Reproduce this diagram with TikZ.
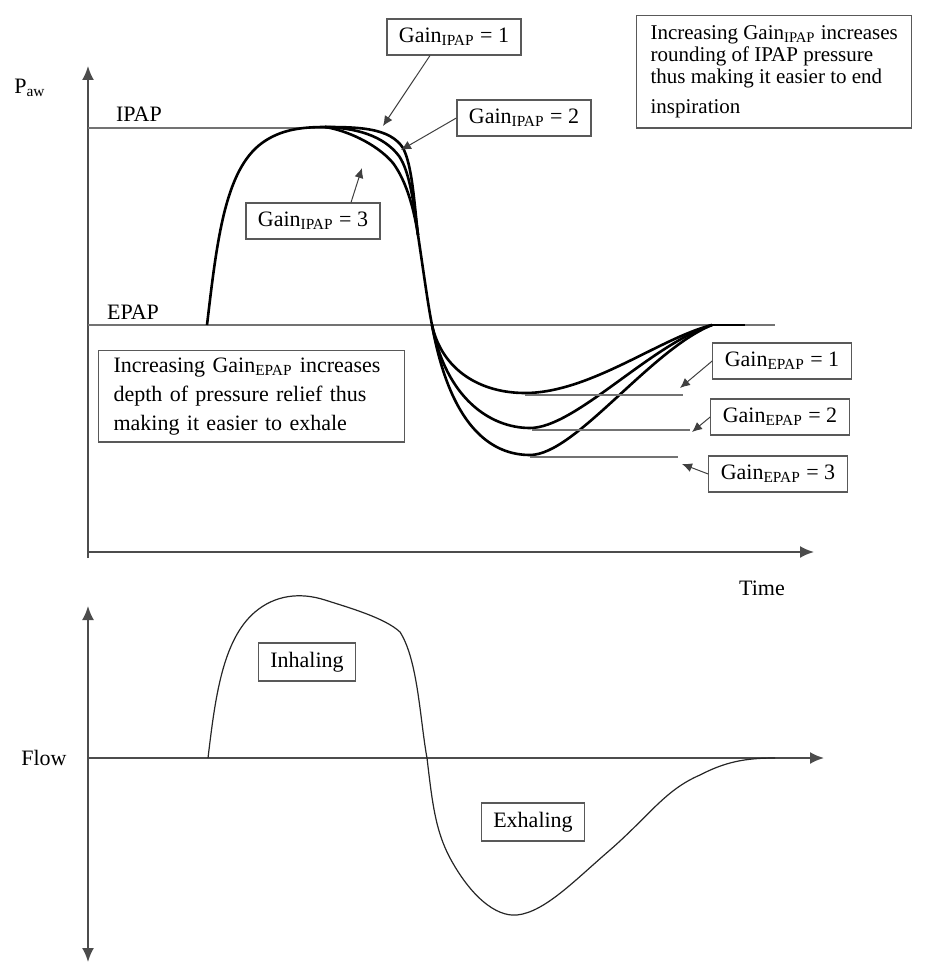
\documentclass[tikz,border=0pt]{standalone}
\usepackage{fontspec}
\setmainfont{Liberation Serif}
\usetikzlibrary{arrows.meta}
\begin{document}
\begin{tikzpicture}[x=0.5pt,y=-0.5pt,
  axisline/.style={draw=black!70,line width=1pt},
  pcurve/.style={draw=black,line width=1.3pt},
  fcurve/.style={draw=black!85,line width=0.6pt},
  refline/.style={draw=black!55,line width=0.7pt},
  lbl/.style={draw=black!65,line width=0.6pt,fill=white,inner xsep=6pt,inner ysep=4.5pt,font=\fontsize{11}{12}\selectfont},
  txtbox/.style={draw=black!65,line width=0.6pt,fill=white,align=left},
  plain/.style={inner sep=1pt,font=\fontsize{11}{12}\selectfont},
  ptr/.style={-{Latex[length=5pt,width=4.5pt]},draw=black!75,line width=0.5pt}]
\useasboundingbox (0,0) rectangle (932,979);

% ---------- upper plot axes ----------
\coordinate (ya0) at (88,558);
\coordinate (ya1) at (88,66);
\coordinate (xa0) at (88,552);
\coordinate (xa1) at (814,552);
\draw[axisline,-{Latex[length=7pt,width=6pt]}] (ya0) -- (ya1);
\draw[axisline,-{Latex[length=7pt,width=6pt]}] (xa0) -- (xa1);

\coordinate (ip0) at (88,128);
\coordinate (ip1) at (330,128);
\draw[refline] (ip0) -- (ip1);
\coordinate (ep0) at (88,325);
\coordinate (ep1) at (775,325);
\draw[refline] (ep0) -- (ep1);

\node[plain] (paw) at (30,88) {P\textsubscript{aw}};
\node[plain] (ipapl) at (139,114) {IPAP};
\node[plain] (epapl) at (133,312) {EPAP};
\node[plain] (timel) at (762,588) {Time};

% ---------- pressure curves ----------
\coordinate (s0) at (207,325);
\coordinate (pk) at (325,127);
\coordinate (mg) at (418,235);
\coordinate (cx) at (432,325);
\coordinate (rj) at (712,325);
\draw[pcurve] (s0) .. controls (217,240) and (225,170) .. (262,143)
  .. controls (280,130) and (300,127) .. (pk);
\draw[pcurve] (pk) .. controls (360,127) and (390,128) .. (403,148)
  .. controls (412,165) and (414,200) .. (mg);
\draw[pcurve] (pk) .. controls (355,128) and (383,135) .. (399,156)
  .. controls (410,172) and (414,205) .. (mg);
\draw[pcurve] (pk) .. controls (345,130) and (376,143) .. (393,163)
  .. controls (407,182) and (414,210) .. (mg);
\draw[pcurve] (mg) .. controls (424,275) and (428,305) .. (cx);
\draw[pcurve] (cx) .. controls (442,370) and (480,393) .. (525,393)
  .. controls (590,393) and (660,338) .. (rj);
\draw[pcurve] (cx) .. controls (446,398) and (490,428) .. (530,428)
  .. controls (575,428) and (650,345) .. (rj);
\draw[pcurve] (cx) .. controls (450,425) and (490,455) .. (530,455)
  .. controls (575,455) and (650,350) .. (rj);
\coordinate (rj2) at (745,325);
\draw[pcurve] (rj) -- (rj2);

% minima reference lines
\coordinate (m1a) at (525,395);
\coordinate (m1b) at (683,395);
\coordinate (m2a) at (532,430);
\coordinate (m2b) at (690,430);
\coordinate (m3a) at (530,457);
\coordinate (m3b) at (678,457);
\draw[refline] (m1a) -- (m1b);
\draw[refline] (m2a) -- (m2b);
\draw[refline] (m3a) -- (m3b);

% ---------- labels with pointers ----------
\node[lbl] (gi1) at (454,37) {Gain\textsubscript{IPAP} = 1};
\node[lbl] (gi2) at (524,118) {Gain\textsubscript{IPAP} = 2};
\node[lbl] (gi3) at (313,221) {Gain\textsubscript{IPAP} = 3};
\coordinate (ti1) at (383,126);
\coordinate (ti2) at (401,150);
\coordinate (ti3) at (362,168);
\draw[ptr] ([xshift=-12]gi1.south) -- (ti1);
\draw[ptr] (gi2.west) -- (ti2);
\draw[ptr] ([xshift=19]gi3.north) -- (ti3);

\node[lbl] (ge1) at (782,361) {Gain\textsubscript{EPAP} = 1};
\node[lbl] (ge2) at (780,417) {Gain\textsubscript{EPAP} = 2};
\node[lbl] (ge3) at (778,474) {Gain\textsubscript{EPAP} = 3};
\coordinate (te1) at (680,388);
\coordinate (te2) at (692,432);
\coordinate (te3) at (682,464);
\draw[ptr] (ge1.west) -- (te1);
\draw[ptr] (ge2.west) -- (te2);
\draw[ptr] (ge3.west) -- (te3);

\node[txtbox,inner xsep=7pt,inner ysep=5pt,anchor=north west,
  font=\fontsize{10.5}{11}\selectfont] (nbi) at (636,15)
  {Increasing Gain\textsubscript{IPAP} increases\\ rounding of IPAP pressure\\ thus making it easier to end\\[4pt] inspiration};
\node[txtbox,text width=138pt,inner xsep=7.5pt,inner ysep=3.5pt,anchor=north west,
  font=\fontsize{11}{14.5}\selectfont] (nbe) at (98,350)
  {Increasing Gain\textsubscript{EPAP} increases\\ depth of pressure relief thus\\ making it easier to exhale};

% ---------- flow plot ----------
\coordinate (fy0) at (88,962);
\coordinate (fy1) at (88,606);
\coordinate (fx0) at (88,758);
\coordinate (fx1) at (824,758);
\draw[axisline,{Latex[length=7pt,width=6pt]}-{Latex[length=7pt,width=6pt]}] (fy0) -- (fy1);
\draw[axisline,-{Latex[length=7pt,width=6pt]}] (fx0) -- (fx1);
\node[plain] (flowl) at (44,758) {Flow};

\coordinate (f0) at (208,758);
\coordinate (fz) at (427,758);
\coordinate (fe) at (775,758);
\draw[fcurve] (f0) .. controls (215,700) and (222,640) .. (255,612)
  .. controls (275,595) and (300,592) .. (325,600)
  .. controls (350,608) and (385,618) .. (400,632)
  .. controls (418,660) and (420,720) .. (fz)
  .. controls (432,800) and (435,830) .. (450,858)
  .. controls (470,895) and (495,917) .. (517,915)
  .. controls (545,912) and (575,880) .. (610,850)
  .. controls (650,815) and (665,790) .. (700,775)
  .. controls (725,762) and (745,758) .. (fe);

\node[lbl] (inh) at (307,662) {Inhaling};
\node[lbl] (exh) at (533,822) {Exhaling};
\end{tikzpicture}
\end{document}
